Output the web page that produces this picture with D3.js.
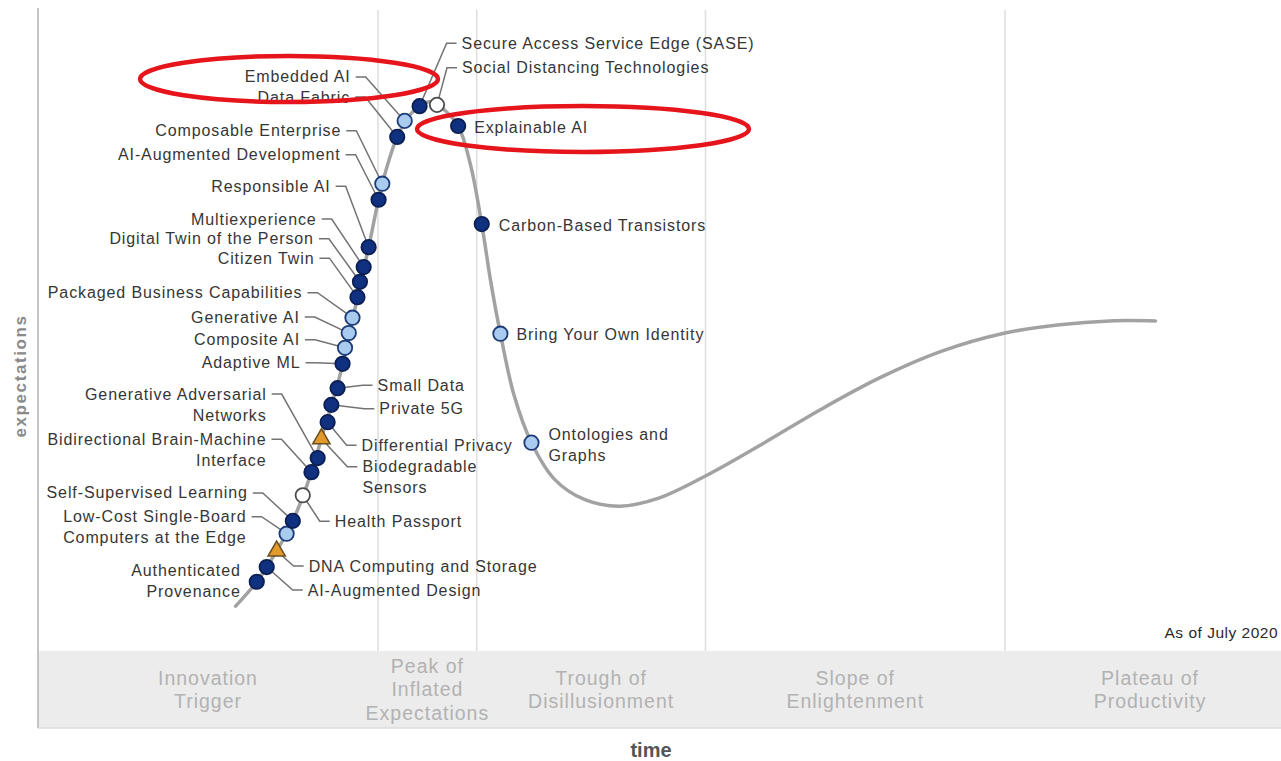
<!DOCTYPE html>
<html>
<head>
<meta charset="utf-8">
<script src="https://cdn.jsdelivr.net/npm/d3@7"></script>
<style>
  body { margin: 0; background: #fff; }
  svg { display: block; font-family: "Liberation Sans", Arial, sans-serif; }
</style>
</head>
<body>
<div class="hype-container"></div>
<script>
// hype curve, time / expectations both on a 0-100 scale
const curveTime   = [15.9, 17.6, 19.2, 20.5, 22.0, 22.8, 24.0, 24.8, 25.7, 26.6, 27.7, 28.9, 29.9, 30.7, 31.5, 32.3, 33.8, 34.8, 35.7, 36.4, 37.2, 38.3, 39.7, 41.6, 44.0, 46.8, 50.0, 53.7, 58.1, 62.9, 67.7, 72.6, 77.8, 82.2, 86.2, 89.9];
const curveExpect = [ 7.0, 10.8, 15.6, 20.3, 27.9, 33.2, 40.9, 47.1, 55.2, 63.0, 72.9, 80.2, 83.6, 85.0, 85.7, 85.0, 81.9, 75.8, 66.6, 57.9, 49.5, 39.9, 32.5, 26.7, 23.6, 22.6, 23.9, 27.3, 32.1, 37.6, 42.6, 46.7, 49.6, 50.9, 51.5, 51.5];

const techNames = [
  "Authenticated\nProvenance", "AI-Augmented Design", "DNA Computing and Storage",
  "Low-Cost Single-Board\nComputers at the Edge", "Self-Supervised Learning", "Health Passport",
  "Bidirectional Brain-Machine\nInterface", "Generative Adversarial\nNetworks", "Biodegradable\nSensors",
  "Differential Privacy", "Private 5G", "Small Data", "Adaptive ML", "Composite AI", "Generative AI",
  "Packaged Business Capabilities", "Citizen Twin", "Digital Twin of the Person", "Multiexperience",
  "Responsible AI", "AI-Augmented Development", "Composable Enterprise", "Data Fabric", "Embedded AI",
  "Secure Access Service Edge (SASE)", "Social Distancing Technologies", "Explainable AI",
  "Carbon-Based Transistors", "Bring Your Own Identity", "Ontologies and\nGraphs"
];
const techTime   = [17.6, 18.4, 19.2, 20.0, 20.5, 21.3, 22.0, 22.5, 22.8, 23.3, 23.6, 24.1, 24.5, 24.7, 25.0, 25.3, 25.7, 25.9, 26.2, 26.6, 27.4, 27.7, 28.9, 29.5, 30.7, 32.1, 33.8, 35.7, 37.2, 39.7];
const techExpect = [10.8, 13.1, 15.6, 18.3, 20.3, 24.3, 27.9, 30.1, 33.1, 35.7, 38.4, 41.0, 44.8, 47.3, 49.6, 52.0, 55.2, 57.6, 59.9, 63.0, 70.4, 72.9, 80.2, 82.7, 85.0, 85.2, 81.9, 66.6, 49.5, 32.5];
// d = dark (2-5 yrs), l = light (5-10 yrs), w = white (<2 yrs), t = triangle (>10 yrs)
const techType = ["d","d","t","l","d","w","d","d","t","d","d","d","d","l","l","l","d","d","d","d","d","l","d","l","d","w","d","d","l","l"];

const phaseNames  = ["Innovation\nTrigger", "Peak of\nInflated\nExpectations", "Trough of\nDisillusionment", "Slope of\nEnlightenment", "Plateau of\nProductivity"];
const phaseBounds = [0, 27.35, 35.3, 53.7, 77.8, 100];
const phaseShift  = [0, 0, 10, 0, 7];   // px nudge, the original labels aren't exactly centred

// label placement (pixel offsets from marker), kept apart from the data
const labelLayout = [
  {side: "l", dx: -16, dy: -11, leader: false},
  {side: "r", dx: 41,  dy: 23},
  {side: "r", dx: 32,  dy: 15},
  {side: "l", dx: -40, dy: -17},
  {side: "l", dx: -45, dy: -28},
  {side: "r", dx: 32,  dy: 26},
  {side: "l", dx: -45, dy: -33},
  {side: "l", dx: -51, dy: -64},
  {side: "r", dx: 41,  dy: 28},
  {side: "r", dx: 34,  dy: 23},
  {side: "r", dx: 48,  dy: 4},
  {side: "r", dx: 40,  dy: -3},
  {side: "l", dx: -42, dy: -1},
  {side: "l", dx: -45, dy: -8},
  {side: "l", dx: -49, dy: -16},
  {side: "l", dx: -50, dy: -25},
  {side: "l", dx: -43, dy: -39},
  {side: "l", dx: -46, dy: -43},
  {side: "l", dx: -47, dy: -48},
  {side: "l", dx: -38, dy: -61},
  {side: "l", dx: -38, dy: -45},
  {side: "l", dx: -41, dy: -53},
  {side: "l", dx: -47, dy: -40},
  {side: "l", dx: -54, dy: -44},
  {side: "r", dx: 42,  dy: -63},
  {side: "r", dx: 25,  dy: -37},
  {side: "r", dx: 16,  dy: 1,  leader: false},
  {side: "r", dx: 17,  dy: 1,  leader: false},
  {side: "r", dx: 16,  dy: 1,  leader: false},
  {side: "r", dx: 17,  dy: -8, leader: false}
];

const width = 1281;
const height = 761;
const plotLeft = 38, plotTop = 10, plotBottom = 651, bandBottom = 728;

const svg = d3.select(".hype-container").append("svg")
  .attr("width", width)
  .attr("height", height);

const xScale = d3.scaleLinear().domain([0, 100]).range([plotLeft, width]);
const yScale = d3.scaleLinear().domain([0, 100]).range([plotBottom, plotTop]);

// phase band at the bottom
svg.append("rect")
  .attr("x", plotLeft).attr("y", plotBottom)
  .attr("width", width - plotLeft).attr("height", bandBottom - plotBottom)
  .attr("fill", "#ececec");
svg.append("line")
  .attr("x1", plotLeft).attr("x2", width)
  .attr("y1", bandBottom).attr("y2", bandBottom)
  .attr("stroke", "#dcdcdc").attr("stroke-width", 1.5);

// phase dividers
svg.selectAll(".divider")
  .data(phaseBounds.slice(1, -1))
  .enter().append("line")
  .attr("class", "divider")
  .attr("x1", d => xScale(d)).attr("x2", d => xScale(d))
  .attr("y1", plotTop).attr("y2", plotBottom)
  .attr("stroke", "#dedede").attr("stroke-width", 1.5);

// left axis
svg.append("line")
  .attr("x1", plotLeft).attr("x2", plotLeft)
  .attr("y1", plotTop - 2).attr("y2", bandBottom)
  .attr("stroke", "#c4c4c4").attr("stroke-width", 2);

// phase names
phaseNames.forEach((name, i) => {
  const cx = xScale((phaseBounds[i] + phaseBounds[i + 1]) / 2) + phaseShift[i];
  const lines = name.split("\n");
  const startY = lines.length === 3 ? 666 : 678;
  const t = svg.append("text")
    .attr("text-anchor", "middle")
    .attr("font-size", 19.5)
    .attr("letter-spacing", 1)
    .attr("fill", "#b2b2b2");
  lines.forEach((ln, j) => {
    t.append("tspan").attr("x", cx).attr("y", startY + j * 23.5).attr("dy", "0.35em").text(ln);
  });
});

// axis titles
svg.append("text")
  .attr("x", 651).attr("y", 750).attr("dy", "0.35em")
  .attr("text-anchor", "middle")
  .attr("font-size", 20).attr("font-weight", "bold")
  .attr("fill", "#555")
  .text("time");
svg.append("text")
  .attr("transform", "translate(20,376) rotate(-90)")
  .attr("dy", "0.35em")
  .attr("text-anchor", "middle")
  .attr("font-size", 17).attr("font-weight", "bold").attr("letter-spacing", 1.6)
  .attr("fill", "#8a8a8a")
  .text("expectations");

// date note, kept just inside the right edge
svg.append("text")
  .attr("x", width - 3).attr("y", 633).attr("dy", "0.35em")
  .attr("text-anchor", "end")
  .attr("font-size", 15.5).attr("letter-spacing", 0.5)
  .attr("fill", "#2a2a2a")
  .text("As of July 2020");

// the hype curve
const curvePts = curveTime.map((t, i) => [t, curveExpect[i]]);
const line = d3.line()
  .x(d => xScale(d[0]))
  .y(d => yScale(d[1]))
  .curve(d3.curveCatmullRom.alpha(0.5));
svg.append("path")
  .datum(curvePts)
  .attr("d", line)
  .attr("fill", "none")
  .attr("stroke", "#a2a2a2")
  .attr("stroke-width", 3.5)
  .attr("stroke-linecap", "round");

// leaders + labels
const techs = techNames.map((name, i) => ({
  name, type: techType[i],
  px: xScale(techTime[i]), py: yScale(techExpect[i]),
  lay: labelLayout[i]
}));

const leaderLine = d3.line();
techs.forEach(d => {
  const tx = d.px + d.lay.dx, ty = d.py + d.lay.dy;
  if (d.lay.leader === false) return;
  const pts = d.lay.side === "l"
    ? [[tx + 5, ty], [tx + 15, ty], [d.px, d.py]]
    : [[d.px, d.py], [tx - 15, ty], [tx - 5, ty]];
  svg.append("path")
    .attr("d", leaderLine(pts))
    .attr("fill", "none")
    .attr("stroke", "#737373")
    .attr("stroke-width", 1.5);
});

techs.forEach(d => {
  const tx = d.px + d.lay.dx, ty = d.py + d.lay.dy;
  const t = svg.append("text")
    .attr("text-anchor", d.lay.side === "l" ? "end" : "start")
    .attr("font-size", 16)
    .attr("letter-spacing", 0.9)
    .attr("fill", "#363636");
  d.name.split("\n").forEach((ln, j) => {
    t.append("tspan").attr("x", tx).attr("y", ty + j * 21).attr("dy", "0.35em").text(ln);
  });
});

// markers
const fills = {d: "#10317f", l: "#a9cbee", w: "#ffffff", t: "#e39a2d"};
const strokes = {d: "#0b1f52", l: "#1d3b78", w: "#4a4a4a", t: "#6b5020"};
techs.forEach(d => {
  if (d.type === "t") {
    svg.append("path")
      .attr("d", d3.symbol(d3.symbolTriangle, 130)())
      .attr("transform", `translate(${d.px},${d.py})`)
      .attr("fill", fills.t).attr("stroke", strokes.t).attr("stroke-width", 1.5);
  } else {
    svg.append("circle")
      .attr("cx", d.px).attr("cy", d.py).attr("r", 7.2)
      .attr("fill", fills[d.type]).attr("stroke", strokes[d.type]).attr("stroke-width", 1.8);
  }
});

// red highlight rings
svg.append("ellipse")
  .attr("cx", 289).attr("cy", 79).attr("rx", 149).attr("ry", 23)
  .attr("fill", "none").attr("stroke", "#e6141b").attr("stroke-width", 4.5);
svg.append("ellipse")
  .attr("cx", 583).attr("cy", 129).attr("rx", 166).attr("ry", 23)
  .attr("fill", "none").attr("stroke", "#e6141b").attr("stroke-width", 4.5);
</script>
</body>
</html>
